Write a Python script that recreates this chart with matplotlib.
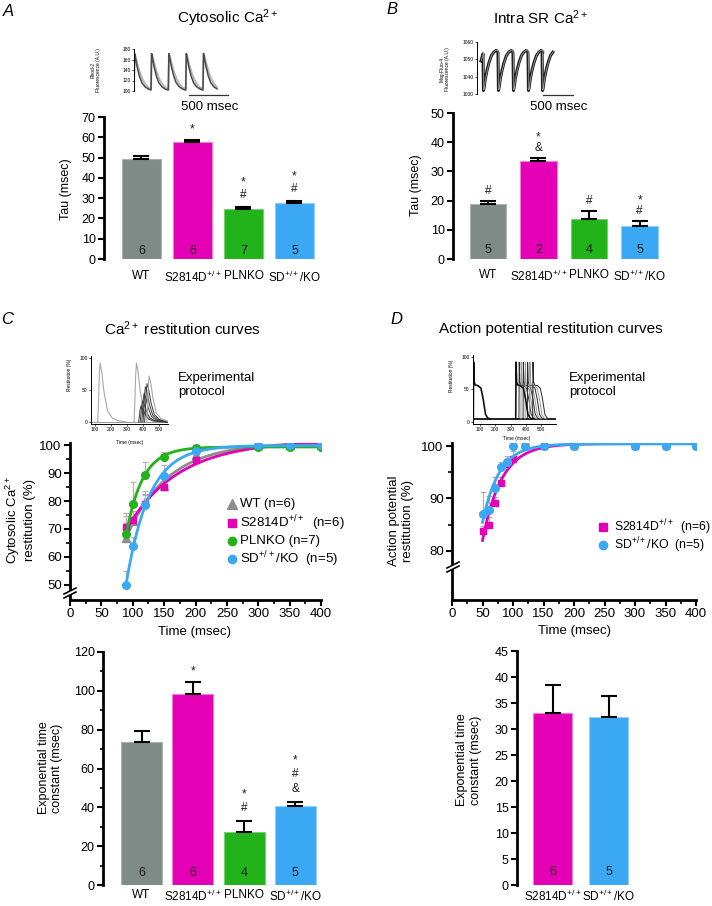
import numpy as np
import matplotlib
matplotlib.use("Agg")
import matplotlib.pyplot as plt
from matplotlib.lines import Line2D
from matplotlib.patches import Polygon

plt.rcParams['font.family'] = ['Liberation Sans', 'DejaVu Sans']
plt.rcParams['mathtext.fontset'] = 'custom'
plt.rcParams['mathtext.rm'] = 'Liberation Sans'
plt.rcParams['mathtext.it'] = 'Liberation Sans:italic'
plt.rcParams['mathtext.bf'] = 'Liberation Sans:bold'

# ---------------- data ----------------
groups = ['WT', 'S2814D$^{+/+}$', 'PLNKO', 'SD$^{+/+}$/KO']
group_colors = ['#7f8b87', '#e400b4', '#22b21a', '#3ba8f3']
group_edges = ['#a9b2af', '#f27fd6', '#77d06f', '#8fd0ff']

cyto_tau = [49.5, 57.5, 24.5, 27.5]
cyto_err = [1.3, 1.2, 1.3, 1.3]
cyto_n = [6, 6, 7, 5]
cyto_sig = [[], ['*'], ['*', '#'], ['*', '#']]

sr_tau = [19.0, 33.5, 13.7, 11.3]
sr_err = [1.0, 1.2, 2.7, 1.8]
sr_n = [5, 2, 4, 5]
sr_sig = [['#'], ['*', '&'], ['#'], ['*', '#']]

ca_tc = [73.5, 98.5, 27.5, 40.5]
ca_tc_err = [6.0, 6.0, 5.5, 2.5]
ca_tc_n = [6, 6, 4, 5]
ca_tc_sig = [[], ['*'], ['*', '#'], ['*', '#', '&']]

ap_groups = ['S2814D$^{+/+}$', 'SD$^{+/+}$/KO']
ap_colors = ['#e400b4', '#3ba8f3']
ap_edges = ['#f27fd6', '#8fd0ff']
ap_tc = [33.0, 32.3]
ap_tc_err = [5.5, 4.0]
ap_tc_n = [6, 5]

# Ca2+ restitution (%)
ca_time = [90, 100, 120, 150, 200, 300, 350, 400]
ca_wt = [66.8, 72.8, 79.5, 85.3, 96.5, 100, 100, 100]
ca_wt_err = [8.0, 3.5, 4.0, 3.0, 2.5, 0, 0, 0]
ca_s2814d = [70.7, 73.3, 79.0, 85.0, 94.8, 100, 100, 100]
ca_s2814d_err = [5.0, 3.0, 3.0, 2.0, 2.0, 0, 0, 0]
ca_plnko = [68.3, 78.9, 89.5, 95.8, 99.0, 99.5, 99.5, 99.5]
ca_plnko_err = [4.0, 8.0, 4.5, 1.8, 1.0, 0, 0, 0]
ca_sdko = [50.0, 64.0, 78.7, 89.1, 97.8, 100, 100, 100]
ca_sdko_err = [5.0, 3.0, 4.0, 4.0, 2.0, 0.3, 0.3, 0.3]
ca_labels = ['WT (n=6)', 'S2814D$^{+/+}$  (n=6)', 'PLNKO (n=7)', 'SD$^{+/+}$/KO  (n=5)']

# AP restitution (%)
ap_time = [50, 60, 70, 80, 90, 100, 120, 150, 200, 300, 350, 400]
ap_s2814d = [83.7, 85.0, 89.2, 93.0, 96.5, 97.6, 100, 100, 100, 100, 100, 100]
ap_s2814d_err = [1.0, 1.5, 1.0, 1.0, 1.0, 1.5, 0, 0, 0, 0, 0, 0]
ap_sdko = [87.0, 87.7, 92.0, 96.0, 97.0, 100, 100, 100, 100, 100, 100, 100]
ap_sdko_err = [4.2, 2.8, 2.0, 1.0, 1.0, 0, 0, 0, 0, 0, 0, 0]
ap_labels = ['S2814D$^{+/+}$  (n=6)', 'SD$^{+/+}$/KO  (n=5)']

# inset traces
cyto_onsets = [0, 218, 440, 663, 884]
cyto_beat_t = [0, 8, 20, 40, 70, 100, 140, 180, 216]
cyto_beat_dark = [102, 171, 162, 146, 128, 116, 108, 104, 102]
cyto_beat_light = [102, 171, 166, 154, 138, 125, 114, 107, 104]
cyto_end = 1064

sr_pre_t = [67, 92]
sr_pre_y = [1049, 1052]
sr_onsets = [100, 350, 600, 850, 1085]
sr_beat_t = [0, 8, 20, 40, 70, 100, 140, 180, 220, 248]
sr_beat = [1053, 1032, 1034, 1039, 1044, 1048, 1052, 1054, 1055, 1054]
sr_end = 1300

prot_ca_t = [0, 5, 10, 15, 25, 40, 60, 90, 130, 180]
prot_ca_y = [0, 0.35, 0.8, 1.0, 0.85, 0.5, 0.2, 0.07, 0.02, 0]
prot_ca_cond_on = [117, 344]
prot_ca_cond_amp = [92, 92]
prot_ca_test_on = [372, 382, 392, 400, 410]
prot_ca_test_amp = [25, 33, 45, 55, 60]
prot_ca_last_on = 423
prot_ca_last_amp = 72

prot_ap_t = [0, 2, 6, 12, 30, 50, 65, 80, 95, 110]
prot_ap_y = [5, 92, 62, 57, 56, 52, 35, 12, 6, 5]
prot_ap_cond_on = [56, 334]
prot_ap_test_on = [355, 368, 382, 395, 410, 425, 445]

# ---------------- figure ----------------
W, H = 712, 906
fig = plt.figure(figsize=(W / 100, H / 100), dpi=100)


def add_ax(l, t, r, b):
    return fig.add_axes([l / W, 1 - b / H, (r - l) / W, (b - t) / H])


def ftext(x, y, s, **kw):
    return fig.text(x / W, 1 - y / H, s, **kw)


def fig_line(xs, ys, **kw):
    fig.add_artist(Line2D([x / W for x in xs], [1 - y / H for y in ys],
                          transform=fig.transFigure, **kw))


def axis_break(cx, cy):
    pts = [(cx - 6, cy + 1), (cx + 6, cy - 5), (cx + 6, cy - 1), (cx - 6, cy + 5)]
    fig.add_artist(Polygon([[x / W, 1 - y / H] for x, y in pts], closed=True,
                           transform=fig.transFigure, facecolor='white',
                           edgecolor='none', zorder=10))
    fig_line([cx - 6, cx + 6], [cy + 1, cy - 5], color='black', lw=1.2, zorder=11)
    fig_line([cx - 6, cx + 6], [cy + 5, cy - 1], color='black', lw=1.2, zorder=11)


def style_left(ax, lw=2.0):
    for s in ['top', 'right', 'bottom']:
        ax.spines[s].set_visible(False)
    ax.spines['left'].set_linewidth(lw)
    ax.tick_params(axis='y', direction='out', length=4, width=1.5, labelsize=9, pad=2)
    ax.tick_params(axis='y', which='minor', direction='out', length=2.5, width=1.2)


def bar_chart(rect, labels, vals, errs, ns, sigs, cols, edges, ylim, yticks,
              minor, width, xlim, n_off, c0, step, xpad):
    ax = add_ax(*rect)
    x = np.arange(len(vals))
    ax.bar(x, vals, width=width, color=cols, edgecolor=edges, linewidth=0.8, zorder=2)
    ax.errorbar(x, vals, yerr=[np.zeros(len(vals)), errs], fmt='none', ecolor='black',
                elinewidth=1.5, capsize=6, capthick=1.5, zorder=3)
    ax.set_xlim(*xlim)
    ax.set_ylim(*ylim)
    ax.set_yticks(yticks)
    if minor is not None:
        ax.set_yticks(minor, minor=True)
    style_left(ax)
    ax.set_xticks(x)
    ax.set_xticklabels(labels, fontsize=8.5)
    ax.tick_params(axis='x', length=0, pad=xpad)
    for xi, n in zip(x, ns):
        ax.annotate(str(n), xy=(xi, 0), xytext=(0, n_off), textcoords='offset pixels',
                    ha='center', va='center', fontsize=9, color='#1a1a1a', zorder=4)
    for xi, v, e, syms in zip(x, vals, errs, sigs):
        for j, s in enumerate(reversed(syms)):
            c = c0 + j * step
            off = c - (6.0 if s == '*' else 4.0)
            ax.annotate(s, xy=(xi, v + e), xytext=(0, off), textcoords='offset pixels',
                        ha='center', va='baseline', fontsize=8.5, color='#1a1a1a')
    return ax


def fit_exp(t, y):
    t = np.asarray(t, float)
    y = np.asarray(y, float)
    best = None
    for tau in np.linspace(5, 300, 1200):
        X = np.column_stack([np.ones_like(t), -np.exp(-t / tau)])
        coef = np.linalg.lstsq(X, y, rcond=None)[0]
        sse = np.sum((X @ coef - y) ** 2)
        if best is None or sse < best[0]:
            best = (sse, tau, coef)
    return best[1], best[2]


# ---------- titles & letters ----------
for (x, y, s) in [(8, 12, 'A'), (392, 10, 'B'), (7, 319, 'C'), (396, 320, 'D')]:
    ftext(x, y, s, fontsize=12, style='italic', ha='center', va='center')
for (x, y, s) in [(228, 18, 'Cytosolic Ca$^{2+}$'), (541, 18, 'Intra SR Ca$^{2+}$'),
                  (182, 329, 'Ca$^{2+}$ restitution curves'),
                  (551, 329, 'Action potential restitution curves')]:
    ftext(x, y, s, fontsize=11, ha='center', va='center')

# ---------- Panel A bars ----------
axA = bar_chart((104, 117, 320, 259), groups, cyto_tau, cyto_err, cyto_n, cyto_sig,
                group_colors, group_edges, (0, 70), np.arange(0, 71, 10), None, 0.75,
                (-0.735, 3.5), 7.5, 13, 14, 8)
ftext(65.5, 189, 'Tau (msec)', fontsize=9, rotation=90, ha='center', va='center')

# ---------- Panel B bars ----------
axB = bar_chart((453, 113, 670, 259), groups, sr_tau, sr_err, sr_n, sr_sig,
                group_colors, group_edges, (0, 50), np.arange(0, 51, 10), None, 0.72,
                (-0.686, 3.6), 9, 11, 12.5, 7)
ftext(416, 185, 'Tau (msec)', fontsize=9, rotation=90, ha='center', va='center')

# ---------- Panel C bottom bars ----------
axC2 = bar_chart((103, 652, 321, 885), groups, ca_tc, ca_tc_err, ca_tc_n, ca_tc_sig,
                 group_colors, group_edges, (0, 120), np.arange(0, 121, 20),
                 np.arange(10, 120, 20), 0.8, (-0.752, 3.5), 12, 14, 15, 3)
ftext(50.5, 768, 'Exponential time\nconstant (msec)', fontsize=9, rotation=90,
      ha='center', va='center', multialignment='center')

# ---------- Panel D bottom bars ----------
axD2 = bar_chart((517, 651, 645, 885), ap_groups, ap_tc, ap_tc_err, ap_tc_n, [[], []],
                 ap_colors, ap_edges, (0, 45), np.arange(0, 46, 5), None, 0.7,
                 (-0.634, 1.65), 13, 14, 15, 3)
ftext(469, 760, 'Exponential time\nconstant (msec)', fontsize=9, rotation=90,
      ha='center', va='center', multialignment='center')

# ---------- Panel C restitution curves ----------
axC = add_ax(70, 442.5, 321, 600)
axC.set_xlim(0, 400)
axC.set_ylim(44.5, 101)
ca_series = [(ca_wt, ca_wt_err, '^', '#8e8e8e', 6), (ca_s2814d, ca_s2814d_err, 's', '#e400b4', 5),
             (ca_plnko, ca_plnko_err, 'o', '#22b21a', 5.5), (ca_sdko, ca_sdko_err, 'o', '#3ba8f3', 5.5)]
for k, (vals, errs, mk, col, ms) in enumerate(ca_series):
    axC.errorbar(ca_time, vals, yerr=[np.zeros(len(errs)), errs], fmt='none', ecolor='#b0b0b0',
                 elinewidth=0.8, capsize=2.5, capthick=0.8, zorder=2 + k)
    tau, (P, A) = fit_exp(ca_time, vals)
    tt = np.linspace(min(ca_time), max(ca_time), 300)
    axC.plot(tt, P - A * np.exp(-tt / tau), color=col, lw=2.0, zorder=3 + k)
    axC.plot(ca_time, vals, linestyle='none', marker=mk, color=col, markersize=ms,
             markeredgecolor=col, zorder=3.5 + k)
for s in ['top', 'right']:
    axC.spines[s].set_visible(False)
for s in ['left', 'bottom']:
    axC.spines[s].set_linewidth(2.0)
axC.set_yticks(np.arange(50, 101, 10))
axC.set_yticks(np.arange(55, 100, 10), minor=True)
axC.set_xticks(np.arange(0, 401, 50))
axC.set_xticks(np.arange(25, 400, 50), minor=True)
axC.tick_params(axis='both', direction='out', length=4, width=1.5, labelsize=9.5, pad=2)
axC.tick_params(axis='both', which='minor', direction='out', length=3, width=1.2)
ftext(195, 632, 'Time (msec)', fontsize=9.5, ha='center', va='center')
ftext(19.5, 520, 'Cytosolic Ca$^{2+}$\nrestitution (%)', fontsize=9.5, rotation=90,
      ha='center', va='center', multialignment='center')
axis_break(70, 593)
leg_y = [504, 522.7, 541, 559]
for (vals, errs, mk, col, ms), lab, y in zip(ca_series, ca_labels, leg_y):
    fig.add_artist(Line2D([231.7 / W], [1 - y / H], marker=mk, color=col, markersize=ms + 0.5,
                          linestyle='none', transform=fig.transFigure))
    ftext(240, y, lab, fontsize=9.5, ha='left', va='center')

# ---------- Panel D restitution curves ----------
axD = add_ax(452, 443.4, 696, 600)
axD.set_xlim(0, 400)
axD.set_ylim(70.6, 100.5)
ap_series = [(ap_s2814d, ap_s2814d_err, 's', '#e400b4', 5), (ap_sdko, ap_sdko_err, 'o', '#3ba8f3', 5.5)]
for k, (vals, errs, mk, col, ms) in enumerate(ap_series):
    axD.errorbar(ap_time, vals, yerr=[np.zeros(len(errs)), errs], fmt='none', ecolor='#b0b0b0',
                 elinewidth=0.8, capsize=2.5, capthick=0.8, zorder=2 + k)
    tau, (P, A) = fit_exp(ap_time, vals)
    tt = np.linspace(min(ap_time), max(ap_time), 300)
    axD.plot(tt, P - A * np.exp(-tt / tau), color=col, lw=2.0, zorder=3 + k)
    axD.plot(ap_time, vals, linestyle='none', marker=mk, color=col, markersize=ms,
             markeredgecolor=col, zorder=3.5 + k)
for s in ['top', 'right']:
    axD.spines[s].set_visible(False)
for s in ['left', 'bottom']:
    axD.spines[s].set_linewidth(2.0)
axD.set_yticks([80, 90, 100])
axD.set_yticks([85, 95], minor=True)
axD.set_xticks(np.arange(0, 401, 50))
axD.set_xticks(np.arange(25, 400, 50), minor=True)
axD.tick_params(axis='both', direction='out', length=4, width=1.5, labelsize=9.5, pad=2)
axD.tick_params(axis='both', which='minor', direction='out', length=3, width=1.2)
ftext(574, 631, 'Time (msec)', fontsize=9.5, ha='center', va='center')
ftext(401, 521, 'Action potential\nrestitution (%)', fontsize=9.5, rotation=90,
      ha='center', va='center', multialignment='center')
axis_break(453, 567)
for (vals, errs, mk, col, ms), lab, y in zip(ap_series, ap_labels, [526.7, 545]):
    fig.add_artist(Line2D([602.7 / W], [1 - y / H], marker=mk, color=col, markersize=ms + 0.5,
                          linestyle='none', transform=fig.transFigure))
    ftext(614, y, lab, fontsize=8.8, ha='left', va='center')


# ---------- insets ----------
def inset_style(ax, bottom=False):
    for s in ['top', 'right']:
        ax.spines[s].set_visible(False)
    ax.spines['left'].set_linewidth(0.7)
    if bottom:
        ax.spines['bottom'].set_linewidth(0.7)
        ax.tick_params(axis='x', direction='out', length=1.5, width=0.5, labelsize=3.5, pad=1)
    else:
        ax.spines['bottom'].set_visible(False)
        ax.set_xticks([])
    ax.tick_params(axis='y', direction='out', length=1.5, width=0.5, labelsize=3.5, pad=1)


def beat_train(onsets, bt, by, end):
    t = np.concatenate([np.asarray(bt, float) + o for o in onsets])
    y = np.concatenate([np.asarray(by, float) for _ in onsets])
    m = t <= end
    return t[m], y[m]


# A inset
iA = add_ax(134, 49, 230, 91)
iA.set_xlim(0, 1231)
iA.set_ylim(100, 180)
iA.set_yticks([100, 120, 140, 160, 180])
inset_style(iA)
t, y = beat_train(cyto_onsets, cyto_beat_t, cyto_beat_light, cyto_end)
iA.plot(t, y, color='#b5b5b5', lw=1.4)
t, y = beat_train(cyto_onsets, cyto_beat_t, cyto_beat_dark, cyto_end)
iA.plot(t, y, color='#4a4a4a', lw=1.1)
iA.plot([705, 1205], [92.4, 92.4], color='#333333', lw=0.9, clip_on=False)
ftext(210, 107, '500 msec', fontsize=9.5, ha='center', va='center')
ftext(96, 70, 'Rhod-2\nFluorescence (A.U.)', fontsize=3.5, rotation=90, ha='center',
      va='center', multialignment='center')

# B inset
iB = add_ax(477, 41.7, 580, 94)
iB.set_xlim(0, 1717)
iB.set_ylim(1030, 1060)
iB.set_yticks([1030, 1040, 1050, 1060])
inset_style(iB)
t, y = beat_train(sr_onsets, sr_beat_t, sr_beat, sr_end)
t = np.concatenate([sr_pre_t, t])
y = np.concatenate([sr_pre_y, y])
iB.plot(t, y, color='#1e1e1e', lw=2.2)
iB.plot(t + 6, y + 0.3, color='#9a9a9a', lw=0.6)
iB.plot([1100, 1600], [1029.4, 1029.4], color='#333333', lw=0.9, clip_on=False)
ftext(559, 107, '500 msec', fontsize=9.5, ha='center', va='center')
ftext(445, 69, 'Mag-Fluo-4\nFluorescence (A.U.)', fontsize=3.5, rotation=90, ha='center',
      va='center', multialignment='center')

# C inset
iC = add_ax(91, 356, 168, 424)
iC.set_xlim(75, 556)
iC.set_ylim(-3, 103)
iC.set_yticks([0, 50, 100])
iC.set_xticks([100, 200, 300, 400, 500])
inset_style(iC, bottom=True)
pt = np.asarray(prot_ca_t, float)
py = np.asarray(prot_ca_y, float)
iC.plot([75, 556], [0, 0], color='#9a9a9a', lw=0.8)
for on, amp in zip(prot_ca_cond_on, prot_ca_cond_amp):
    iC.plot(np.concatenate([[on - 1], pt + on]), np.concatenate([[0], py * amp]), color='#a8a8a8', lw=0.8)
for on, amp in zip(prot_ca_test_on, prot_ca_test_amp):
    iC.plot(pt + on, py * amp, color='#3a3a3a', lw=0.7)
iC.plot(pt + prot_ca_last_on, py * prot_ca_last_amp, color='#a8a8a8', lw=0.8)
ftext(130, 442, 'Time (msec)', fontsize=3.5, ha='center', va='center')
ftext(70, 375, 'Restitution (%)', fontsize=3.5, rotation=90, ha='center', va='center')
ftext(178, 385, 'Experimental\nprotocol', fontsize=9.5, ha='left', va='center', linespacing=1.15)

# D inset
iD = add_ax(473, 355, 556, 424)
iD.set_xlim(54, 598)
iD.set_ylim(-3, 103)
iD.set_yticks([0, 50, 100])
iD.set_xticks([100, 200, 300, 400, 500])
inset_style(iD, bottom=True)
at = np.asarray(prot_ap_t, float)
ay = np.asarray(prot_ap_y, float)
iD.plot([54, 598], [5, 5], color='#111111', lw=1.3)
for k, on in enumerate(prot_ap_test_on):
    iD.plot(at + on, ay, color='#9a9a9a' if k % 2 else '#2a2a2a', lw=0.7)
for on in prot_ap_cond_on:
    iD.plot(at + on, ay, color='#111111', lw=1.2)
ftext(517, 439, 'Time (msec)', fontsize=3.5, ha='center', va='center')
ftext(451.5, 376, 'Restitution (%)', fontsize=3.5, rotation=90, ha='center', va='center')
ftext(569, 385, 'Experimental\nprotocol', fontsize=9.5, ha='left', va='center', linespacing=1.15)

fig.savefig('out.png', dpi=100)
